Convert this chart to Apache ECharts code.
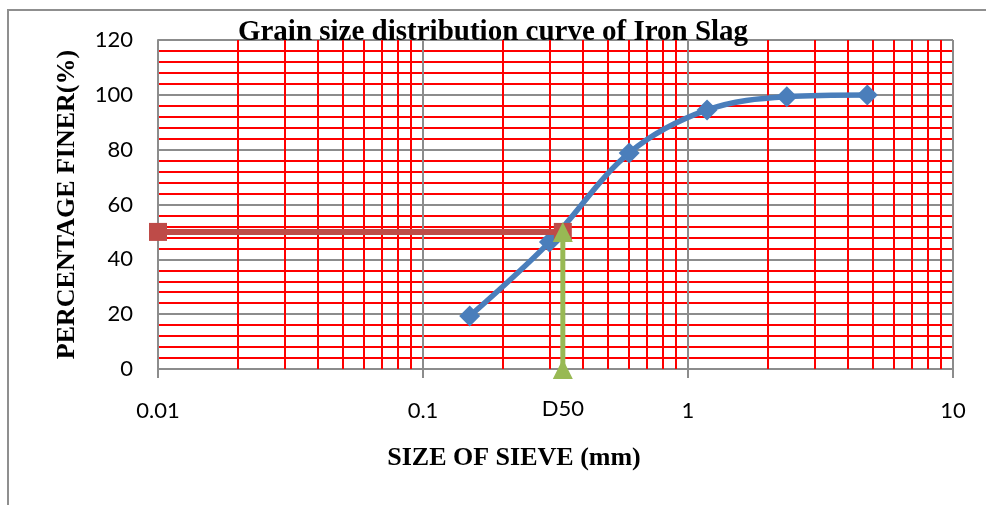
<!DOCTYPE html>
<html>
<head>
<meta charset="utf-8">
<script src="https://cdn.jsdelivr.net/npm/echarts@6/dist/echarts.min.js"></script>
<style>
  html, body { margin: 0; padding: 0; background: #ffffff; }
  #chart { width: 986px; height: 505px; }
</style>
</head>
<body>
<div id="chart"></div>
<script>
// Sieve analysis of iron slag
const sieveSizes = [0.15, 0.3, 0.6, 1.18, 2.36, 4.75];      // mm
const percentFiner = [19.3, 46.3, 78.8, 94.5, 99.3, 99.9];  // %

// D50 construction lines
const d50Size = 0.337;
const d50Percent = 50;
const d50HorizontalX = [0.01, d50Size];
const d50HorizontalY = [d50Percent, d50Percent];
const d50VerticalX = [d50Size, d50Size];
const d50VerticalY = [0, d50Percent];
const d50Label = 'D50';

// Axis ranges / ticks
const xTickLabels = [0.01, 0.1, 1, 10];
const yTickLabels = [0, 20, 40, 60, 80, 100, 120];

const titleText = 'Grain size distribution curve of Iron Slag';
const xAxisTitle = 'SIZE OF SIEVE (mm)';
const yAxisTitle = 'PERCENTAGE FINER(%)';

// Minor log grid: 2..9 within each decade
const minorX = [];
for (let i = 0; i < xTickLabels.length - 1; i++) {
  for (let k = 2; k <= 9; k++) minorX.push(+(k * xTickLabels[i]).toPrecision(3));
}

const GRID_RED = '#ff0000';
const GRID_GRAY = '#8c8c8c';
const LABEL_FONT = 'Lato, "Open Sans", sans-serif';
const SERIF = '"Liberation Serif", "DejaVu Serif", serif';

const zip = (xs, ys) => xs.map((x, i) => [x, ys[i]]);

const chart = echarts.init(document.getElementById('chart'), null, { renderer: 'canvas' });

chart.setOption({
  animation: false,
  backgroundColor: '#ffffff',
  title: {
    text: titleText,
    left: 'center',
    top: 13,
    textStyle: { fontFamily: SERIF, fontWeight: 'bold', fontSize: 29, color: '#000' },
    z: 20
  },
  graphic: [{
    type: 'rect',
    shape: { x: 8, y: 10, width: 1100, height: 700 },
    style: { fill: 'none', stroke: '#8f8f8f', lineWidth: 2 },
    silent: true,
    z: -1
  }],
  grid: { left: 158, top: 40, right: 33, bottom: 136, containLabel: false },
  xAxis: {
    type: 'log',
    logBase: 10,
    min: xTickLabels[0],
    max: xTickLabels[xTickLabels.length - 1],
    name: xAxisTitle,
    nameLocation: 'middle',
    nameGap: 76,
    nameTextStyle: {
      fontFamily: SERIF, fontWeight: 'bold', fontSize: 26, color: '#000',
      padding: [0, 83, 0, 0]
    },
    axisLine: { show: true, lineStyle: { color: GRID_GRAY, width: 2 } },
    axisTick: { show: true, length: 9, lineStyle: { color: GRID_GRAY, width: 2 } },
    axisLabel: {
      fontFamily: LABEL_FONT, fontSize: 22, color: '#000', margin: 31,
      formatter: v => String(+v.toPrecision(3))
    },
    splitLine: { show: true, lineStyle: { color: GRID_GRAY, width: 2 } }
  },
  yAxis: {
    type: 'value',
    min: yTickLabels[0],
    max: yTickLabels[yTickLabels.length - 1],
    interval: 20,
    name: yAxisTitle,
    nameLocation: 'middle',
    nameGap: 78,
    nameTextStyle: { fontFamily: SERIF, fontWeight: 'bold', fontSize: 26, color: '#000' },
    axisLine: { show: true, lineStyle: { color: GRID_GRAY, width: 2 } },
    axisTick: { show: false },
    axisLabel: { fontFamily: LABEL_FONT, fontSize: 22, color: '#000', margin: 25 },
    splitLine: { show: true, lineStyle: { color: GRID_GRAY, width: 2 } },
    minorTick: { show: false, splitNumber: 5 },
    minorSplitLine: { show: true, lineStyle: { color: GRID_RED, width: 2 } }
  },
  series: [
    {
      // red minor gridlines of the log axis
      type: 'line',
      data: [],
      silent: true,
      z: 1,
      markLine: {
        silent: true,
        symbol: ['none', 'none'],
        label: { show: false },
        lineStyle: { color: GRID_RED, width: 2, type: 'solid' },
        emphasis: { disabled: true },
        data: minorX.map(v => ({ xAxis: v }))
      }
    },
    {
      name: 'Iron Slag',
      type: 'line',
      data: zip(sieveSizes, percentFiner),
      smooth: 0.35,
      symbol: 'diamond',
      symbolSize: 21,
      lineStyle: { color: '#4a7ebb', width: 5.5 },
      itemStyle: { color: '#4a7ebb' },
      z: 5
    },
    {
      name: 'D50 horizontal',
      type: 'line',
      data: zip(d50HorizontalX, d50HorizontalY),
      symbol: 'rect',
      symbolSize: 18,
      lineStyle: { color: '#be4b48', width: 6 },
      itemStyle: { color: '#be4b48' },
      z: 6
    },
    {
      name: 'D50 vertical',
      type: 'line',
      data: zip(d50VerticalX, d50VerticalY).map((p, i) => i === 0 ? {
        value: p,
        label: {
          show: true,
          position: 'bottom',
          distance: 19,
          formatter: d50Label,
          fontFamily: LABEL_FONT, fontSize: 22, color: '#000'
        }
      } : { value: p }),
      symbol: 'triangle',
      symbolSize: 20,
      lineStyle: { color: '#98b954', width: 5 },
      itemStyle: { color: '#98b954' },
      z: 7
    }
  ]
});
</script>
</body>
</html>
